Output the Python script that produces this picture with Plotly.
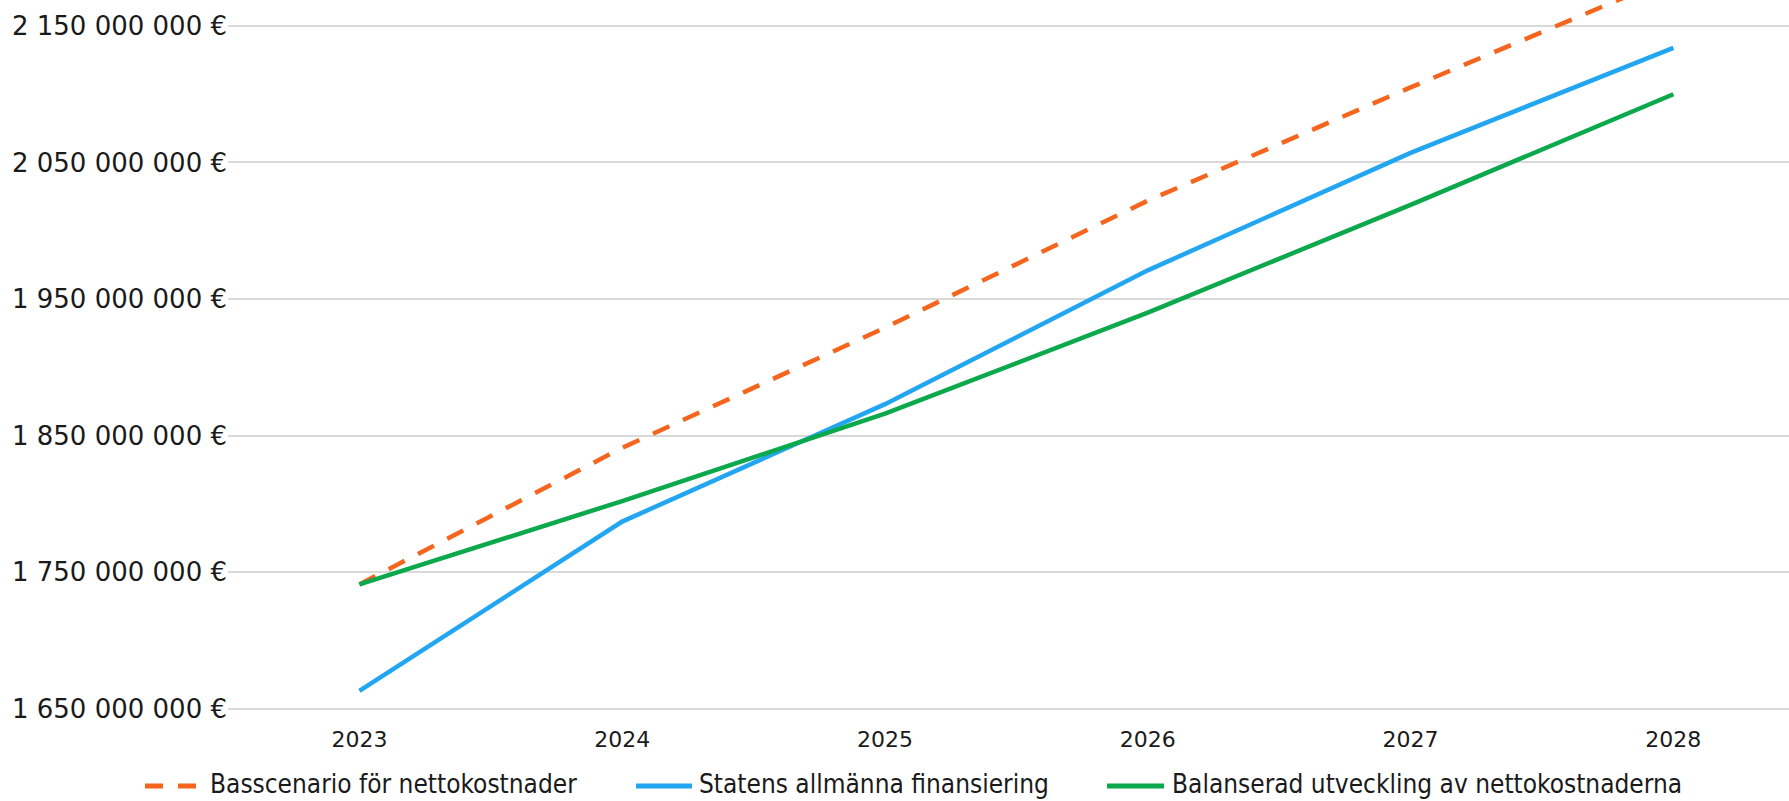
import plotly.graph_objects as go

years = [2023, 2024, 2025, 2026, 2027, 2028]
bas = [1741e6, 1841e6, 1929e6, 2022e6, 2105e6, 2186e6]
statens = [1663e6, 1787e6, 1873e6, 1971e6, 2057e6, 2134e6]
balans = [1741e6, 1802e6, 1866e6, 1940e6, 2019e6, 2100e6]

names = ["Basscenario för nettokostnader",
         "Statens allmänna finansiering",
         "Balanserad utveckling av nettokostnaderna"]
colors = ["#F5651E", "#22A6F2", "#0BA84C"]
dashes = ["18px,15px", "solid", "solid"]

ytickvals = [1650e6, 1750e6, 1850e6, 1950e6, 2050e6, 2150e6]
yticktext = ["1 650 000 000 €", "1 750 000 000 €", "1 850 000 000 €",
             "1 950 000 000 €", "2 050 000 000 €", "2 150 000 000 €"]

W, H = 1789, 801
ML, MR, MT, MB = 228, 0, 0, 91
PW, PH = W - ML - MR, H - MT - MB

fig = go.Figure()
for name, ys, c, d in zip(names, [bas, statens, balans], colors, dashes):
    fig.add_trace(go.Scatter(x=years, y=ys, name=name, mode="lines",
                             line=dict(color=c, width=4.5, dash=d)))

# manual legend (positions in pixels -> paper coords)
leg_y_px = 786
leg_text_y_px = 784
leg_items_px = [(145, 202, 209), (636, 692, 698), (1107, 1164, 1171)]
def px2x(px):
    return (px - ML) / PW
def py2y(py):
    return (H - MB - py) / PH
shapes = []
annotations = []
for (x0, x1, xt), name, c, d in zip(leg_items_px, names, colors, dashes):
    shapes.append(dict(type="line", xref="paper", yref="paper",
                       x0=px2x(x0), x1=px2x(x1), y0=py2y(leg_y_px), y1=py2y(leg_y_px),
                       line=dict(color=c, width=5, dash=d)))
    annotations.append(dict(xref="paper", yref="paper", x=px2x(xt), y=py2y(leg_text_y_px),
                            xanchor="left", yanchor="middle", showarrow=False, text=name,
                            borderpad=0,
                            font=dict(family="DejaVu Sans Condensed", size=26, color="#1a1a1a")))

fig.update_layout(
    width=W, height=H,
    margin=dict(l=ML, r=MR, t=MT, b=MB),
    paper_bgcolor="white", plot_bgcolor="white",
    showlegend=False,
    shapes=shapes, annotations=annotations,
    xaxis=dict(range=[2022.5, 2028.44], tickvals=years, ticktext=[str(y) for y in years],
               showgrid=False, zeroline=False, showline=False,
               tickfont=dict(family="DejaVu Sans", size=22, color="#1a1a1a"),
               ticklabelstandoff=14),
    yaxis=dict(range=[1649e6, 2169e6], tickvals=ytickvals, ticktext=yticktext,
               showgrid=True, gridcolor="#D9D9D9", gridwidth=1.5,
               zeroline=False, showline=False,
               tickfont=dict(family="DejaVu Sans", size=26, color="#1a1a1a"),
               ticklabelstandoff=0),
)

fig.write_html("out.html")
